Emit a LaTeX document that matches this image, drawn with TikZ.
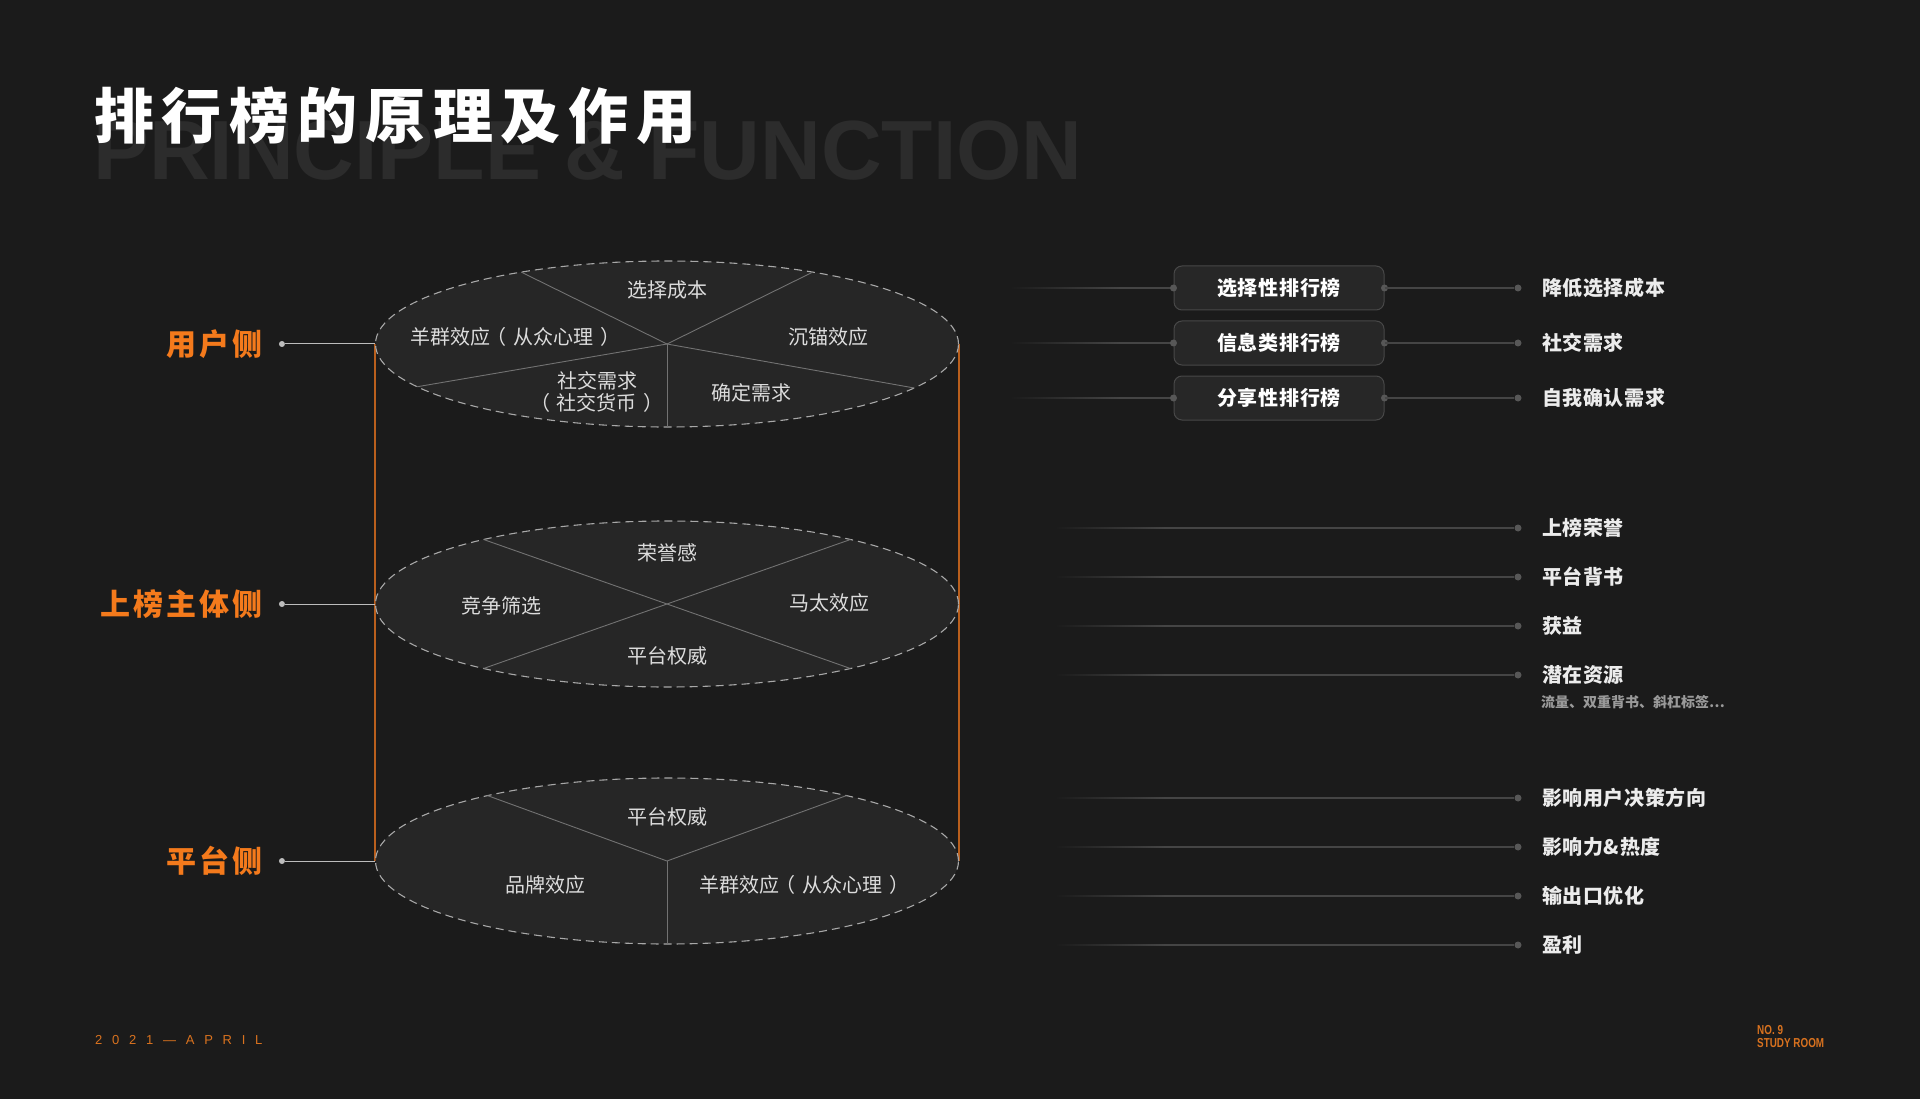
\documentclass[tikz,border=0pt]{standalone}
\usepackage{fontspec}
\usepackage{tikz}
\usetikzlibrary{positioning,calc,backgrounds,shapes.geometric}
\newfontfamily\cjk{Noto Sans CJK SC}
\newfontfamily\latin{Liberation Sans}
\newfontfamily\latinnarrow[FakeStretch=0.76]{Liberation Sans}
\definecolor{bgc}{HTML}{1B1B1B}
\definecolor{ghostc}{HTML}{2C2C2C}
\definecolor{sideor}{HTML}{F47A1C}
\definecolor{railor}{HTML}{B95F1D}
\definecolor{discfill}{HTML}{262626}
\definecolor{discedge}{HTML}{A8A8A8}
\definecolor{cutc}{HTML}{727272}
\definecolor{disctext}{HTML}{DCDCDC}
\definecolor{pinc}{HTML}{BDBDBD}
\definecolor{linec}{HTML}{454545}
\definecolor{dotc}{HTML}{575757}
\definecolor{boxfill}{HTML}{272727}
\definecolor{boxedge}{HTML}{484848}
\definecolor{labc}{HTML}{ECECEC}
\definecolor{subc}{HTML}{9A9A9A}
\definecolor{footor}{HTML}{D9721F}
\tikzset{
  ghosttxt/.style={inner sep=0pt, text=ghostc,
                   font=\latin\bfseries\fontsize{84}{90}\selectfont},
  titletxt/.style={inner sep=0pt, text=white,
                   font=\cjk\bfseries\fontsize{60}{66}\selectfont\addfontfeature{LetterSpace=13}},
  side/.style   ={inner sep=0pt, anchor=east, text=sideor,
                   font=\cjk\bfseries\fontsize{30}{36}\selectfont\addfontfeature{LetterSpace=10}},
  disc/.style   ={ellipse, draw=discedge, fill=discfill, line width=1.1pt,
                   dash pattern=on 8pt off 5pt, inner sep=0pt,
                   minimum width=583pt, minimum height=166pt},
  cut/.style    ={draw=cutc, line width=0.9pt},
  elbl/.style   ={inner sep=0pt, text=disctext, align=center,
                   font=\cjk\fontsize{20}{22}\selectfont},
  pin/.style    ={circle, fill=pinc, inner sep=0pt, minimum size=6pt},
  pinlink/.style={draw=pinc, line width=1pt},
  rail/.style   ={draw=railor, line width=1.3pt},
  % ranking kinds, the three boxes on the upper right
  kind/.style   ={rectangle, rounded corners=8pt, draw=boxedge, fill=boxfill,
                   line width=1pt, minimum width=210pt, minimum height=44pt,
                   inner sep=0pt, text=white,
                   font=\cjk\bfseries\fontsize{20}{24}\selectfont\addfontfeature{LetterSpace=4}},
  dot/.style    ={circle, fill=dotc, inner sep=0pt, minimum size=7pt},
  link/.style   ={draw=linec, line width=1.1pt},
  effect/.style ={inner sep=0pt, anchor=west, text=labc,
                   font=\cjk\bfseries\fontsize{20}{24}\selectfont\addfontfeature{LetterSpace=3}},
  subnote/.style={inner sep=0pt, anchor=west, text=subc,
                   font=\cjk\bfseries\fontsize{14}{16}\selectfont},
  foot/.style   ={inner sep=0pt, anchor=west, text=footor,
                   font=\latin\fontsize{13}{15}\selectfont\addfontfeature{LetterSpace=75}},
  brand/.style  ={inner sep=0pt, anchor=north west, align=left, text=footor,
                   font=\latinnarrow\bfseries\fontsize{13}{13.5}\selectfont},
}
% full-width brackets with their air, as the slide sets them
\newcommand{\lpar}{\kern-4pt（\kern7pt}
\newcommand{\rpar}{\kern7pt）\kern-4pt}
% a line that fades in from the dark ground, then runs solid to its target
\newcommand{\fadelink}[2]{%
  \shade[left color=bgc, right color=linec]
    ($(#1)+(0,-0.55)$) rectangle ($(#1)+(110,0.55)$);
  \draw[link] ($(#1)+(110,0)$) -- (#2);}
\def\kindlist{1/288/选择性排行榜/降低选择成本,
              2/343/信息类排行榜/社交需求,
              3/398/分享性排行榜/自我确认需求}
\def\gainlist{a/528/上榜荣誉, b/577/平台背书, c/626/获益, d/675/潜在资源,
              e/798/影响用户决策方向, f/847/影响力\&热度, g/896/输出口优化,
              h/945/盈利}

\begin{document}
\begin{tikzpicture}[x=1pt, y=-1pt]
\begin{scope}[on background layer]
  \fill[bgc] (0,0) rectangle (1920,1099);
\end{scope}
\useasboundingbox (0,0) rectangle (1920,1099);

\node[ghosttxt, anchor=base west] (ghost) at (93,180) {PRINCIPLE \& FUNCTION};
\node[titletxt, anchor=west] (title) at (94,116) {排行榜的原理及作用};

% --- the three discs ---
\node[disc] (U) at (667,344) {};
\node[disc] (M) at (667,604) {};
\node[disc] (P) at (667,861) {};
\begin{scope}[on background layer]
  \draw[rail] (U.west) -- (P.west);
  \draw[rail] (U.east) -- (P.east);
\end{scope}

\foreach \nm/\ang in {u1/240, u2/300, u3/149, u4/32, u5/90}
  \coordinate (\nm) at ($(U.center)+(\ang:291.5 and 83)$);
\foreach \nm in {u1,u2,u3,u4,u5} \draw[cut] (U.center) -- (\nm);
\foreach \nm/\ang in {m1/231, m2/309, m3/129, m4/51}
  \coordinate (\nm) at ($(M.center)+(\ang:291.5 and 83)$);
\draw[cut] (m1) -- (m4);
\draw[cut] (m2) -- (m3);
\foreach \nm/\ang in {p1/232, p2/308, p3/90}
  \coordinate (\nm) at ($(P.center)+(\ang:291.5 and 83)$);
\foreach \nm in {p1,p2,p3} \draw[cut] (P.center) -- (\nm);

\node[elbl] (uA) at (667,290) {选择成本};
\node[elbl] (uB) at (513,337) {羊群效应\lpar 从众心理\rpar};
\node[elbl] (uC) at (828,337) {沉锚效应};
\node[elbl] (uD) at (597,392) {社交需求\\\lpar 社交货币\rpar};
\node[elbl] (uE) at (751,393) {确定需求};
\node[elbl] (mA) at (667,553) {荣誉感};
\node[elbl] (mB) at (501,606) {竞争筛选};
\node[elbl] (mC) at (829,603) {马太效应};
\node[elbl] (mD) at (667,656) {平台权威};
\node[elbl] (pA) at (667,817) {平台权威};
\node[elbl] (pB) at (545,885) {品牌效应};
\node[elbl] (pC) at (802,885) {羊群效应\lpar 从众心理\rpar};

% --- sides on the left ---
\foreach \nm/\txt in {U/用户侧, M/上榜主体侧, P/平台侧} {
  \node[side] (s\nm) at ($(\nm.west)+(-112,0)$) {\txt};
  \node[pin] (d\nm) at ($(\nm.west)+(-93,0)$) {};
  \draw[pinlink] (d\nm) -- (\nm.west);
}

% --- right: kinds of ranking and what they bring ---
\foreach \n/\y/\kd/\ef in \kindlist {
  \node[kind] (k\n) at (1279,\y) {\kd};
  \coordinate (ks\n) at (1010,\y);
  \fadelink{ks\n}{k\n.west}
  \node[dot] at (k\n.west) {};
  \node[dot] at (k\n.east) {};
  \node[dot] (kd\n) at (1518,\y) {};
  \draw[link] (k\n.east) -- (kd\n);
  \node[effect] (ke\n) at (1542,\y) {\ef};
}
\foreach \n/\y/\ef in \gainlist {
  \coordinate (gs\n) at (1055,\y);
  \node[dot] (gd\n) at (1518,\y) {};
  \fadelink{gs\n}{gd\n}
  \node[effect] (ge\n) at (1542,\y) {\ef};
}
\node[subnote] (gnote) at (1541,702) {流量、双重背书、斜杠标签…};

\node[foot] (date) at (95,1040) {2021—APRIL};
\node[brand] (room) at (1757,1025) {NO. 9\\STUDY ROOM};
\end{tikzpicture}
\end{document}
